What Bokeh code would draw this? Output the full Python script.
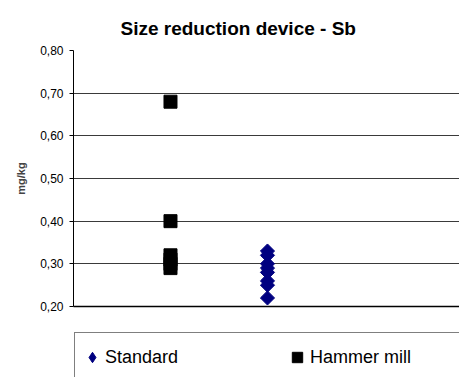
from bokeh.plotting import figure
from bokeh.layouts import column
from bokeh.models import (ColumnDataSource, FixedTicker, Range1d, Legend, LegendItem, Grid)
from bokeh.embed import file_html
from bokeh.resources import INLINE
import math

# ---- data ----
title_text = "Size reduction device - Sb"
y_label = "mg/kg"
series_names = ["Standard", "Hammer mill"]
series_x = [2, 1]
standard_values = [0.33, 0.32, 0.30, 0.29, 0.28, 0.26, 0.25, 0.22]
hammer_values = [0.68, 0.40, 0.32, 0.31, 0.30, 0.29]
y_ticks = [0.2, 0.3, 0.4, 0.5, 0.6, 0.7, 0.8]
y_tick_labels = ["0,20", "0,30", "0,40", "0,50", "0,60", "0,70", "0,80"]

FONT = "Liberation Sans"
STD_COLOR = "#000080"
HAM_COLOR = "black"
NBSP = "\u00a0"

p = figure(width=459, height=331, output_backend="svg", toolbar_location=None,
           x_range=Range1d(0, 3.98), y_range=Range1d(0.2, 0.8),
           min_border_left=73, min_border_right=0, min_border_top=50, min_border_bottom=25)
p.outline_line_color = None
p.background_fill_color = "white"
p.border_fill_color = "white"

p.title.text = title_text
p.title.text_font = FONT
p.title.text_font_size = "19px"
p.title.text_font_style = "bold"
p.title.align = "left"
p.title.offset = 47
p.title.standoff = 24
p.title.text_color = "black"

# y axis
ya = p.yaxis[0]
ya.ticker = FixedTicker(ticks=y_ticks)
ya.major_label_overrides = {t: l for t, l in zip(y_ticks, y_tick_labels)}
ya.major_label_text_font = FONT
ya.major_label_text_font_size = "12px"
ya.major_label_text_color = "black"
ya.major_label_standoff = 6
ya.major_tick_out = 4
ya.major_tick_in = 0
ya.minor_tick_out = 0
ya.minor_tick_in = 0
ya.axis_line_color = "black"
ya.major_tick_line_color = "black"
ya.axis_label = y_label
ya.axis_label_text_font = FONT
ya.axis_label_text_font_size = "11px"
ya.axis_label_text_font_style = "bold"
ya.axis_label_standoff = 10

xa = p.xaxis[0]
xa.ticker = FixedTicker(ticks=[])
xa.major_label_text_font_size = "0px"
xa.major_label_standoff = 0
xa.major_tick_out = 0
xa.major_tick_in = 0
xa.minor_tick_out = 0
xa.minor_tick_in = 0
xa.major_tick_line_color = None
xa.minor_tick_line_color = None
xa.axis_line_color = "black"
xa.axis_line_width = 1.5

p.xgrid.visible = False
p.ygrid.visible = False
p.add_layout(Grid(dimension=1, ticker=FixedTicker(ticks=y_ticks[1:-1]),
                  grid_line_color="#3a3a3a", grid_line_width=1))
p.add_layout(Grid(dimension=1, ticker=FixedTicker(ticks=[y_ticks[-1]]),
                  grid_line_color="#8a8a8a", grid_line_width=2))

src_std = ColumnDataSource(dict(x=[series_x[0]] * len(standard_values), y=standard_values))
src_ham = ColumnDataSource(dict(x=[series_x[1]] * len(hammer_values), y=hammer_values))

p.scatter("x", "y", source=src_std, marker="square", angle=math.pi / 4,
          size=10, fill_color=STD_COLOR, line_color=STD_COLOR)
p.scatter("x", "y", source=src_ham, marker="square",
          size=13, fill_color=HAM_COLOR, line_color=HAM_COLOR)

# ---- legend strip below the chart ----
p2 = figure(width=459, height=46, output_backend="svg", toolbar_location=None,
            x_range=Range1d(0, 1), y_range=Range1d(0, 1),
            min_border_left=73, min_border_right=0, min_border_top=0, min_border_bottom=0)
p2.axis.visible = False
p2.grid.visible = False
p2.outline_line_color = None
p2.background_fill_color = "white"
p2.border_fill_color = "white"

nan = float("nan")
lg_std = p2.scatter(x=[nan], y=[nan], marker="diamond",
                    fill_color=STD_COLOR, line_color=STD_COLOR)
lg_ham = p2.scatter(x=[nan], y=[nan], marker="square",
                    fill_color=HAM_COLOR, line_color=HAM_COLOR)
lg_gap = p2.scatter(x=[nan], y=[nan], marker="square", fill_alpha=0, line_alpha=0)

legend = Legend(items=[LegendItem(label=series_names[0], renderers=[lg_std]),
                       LegendItem(label=NBSP * 16, renderers=[lg_gap]),
                       LegendItem(label=series_names[1], renderers=[lg_ham]),
                       LegendItem(label=NBSP * 6, renderers=[lg_gap])],
                orientation="horizontal", location=(1, -5),
                padding=4, spacing=0, glyph_width=26, glyph_height=40,
                label_height=40, label_width=0, label_standoff=0,
                label_text_font=FONT, label_text_font_size="18px",
                label_text_color="black",
                border_line_color="black", border_line_width=1,
                background_fill_color="white", background_fill_alpha=1.0,
                margin=0)
p2.add_layout(legend, "center")

layout = column(p, p2, spacing=0)
open("out.html", "w").write(file_html(layout, INLINE))
